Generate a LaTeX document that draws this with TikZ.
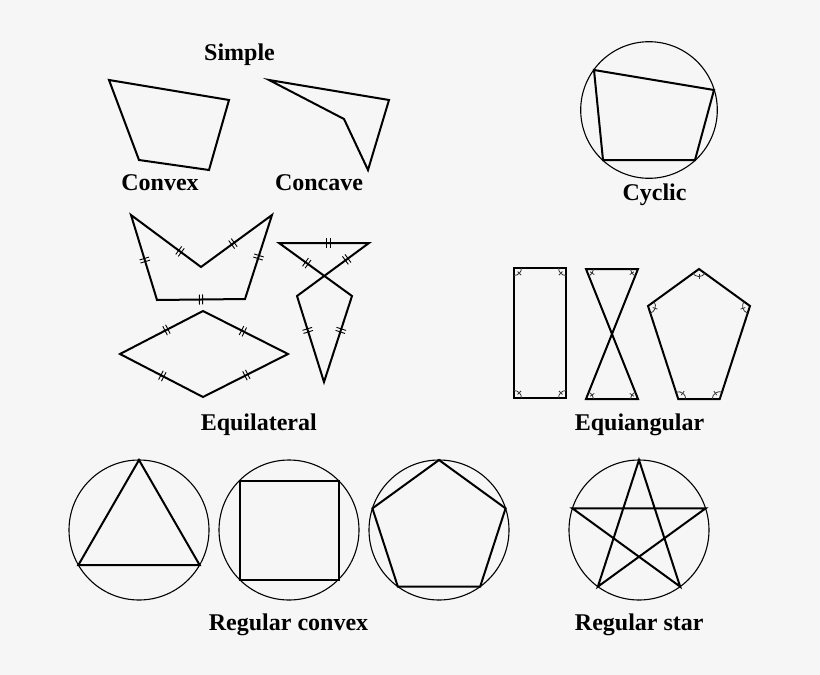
\documentclass[tikz,border=0pt]{standalone}
\usepackage{fontspec}
\setmainfont{Liberation Serif}
\usetikzlibrary{calc,decorations.markings}
\definecolor{bgcol}{HTML}{F6F6F6}
\definecolor{markcol}{HTML}{333333}
\tikzset{
  poly/.style={line width=2pt, black},
  circ/.style={line width=1.1pt, black},
  lbl/.style={font=\bfseries\fontsize{24}{28}\selectfont, anchor=base, inner sep=0pt},
  tickline/.style={line width=0.9pt},
  dtick/.style={decoration={markings, mark=at position #1 with {\draw[tickline] (-1.6pt,-5pt)--(-1.6pt,5pt) (1.6pt,-5pt)--(1.6pt,5pt);}}, decorate},
  amarkline/.style={line width=0.8pt, markcol},
}
\newcommand{\amk}[3]{%
  \draw[amarkline] ($(#1)+(#2:7.5)$) arc[start angle=#2, end angle=#3, radius=7.5];
  \draw[amarkline] ($(#1)+({(#2+#3)/2}:5)$) -- ($(#1)+({(#2+#3)/2}:10)$);
}
\begin{document}
\begin{tikzpicture}[x=1pt,y=-1pt]
\fill[bgcol] (0,0) rectangle (820,675);
\useasboundingbox (0,0) rectangle (820,675);

% ---------- Simple ----------
\node[lbl] (simple) at (239.5,60) {Simple};
\coordinate (c1) at (109,80);
\coordinate (c2) at (229,100);
\coordinate (c3) at (209,170);
\coordinate (c4) at (139,160);
\draw[poly] (c1) -- (c2) -- (c3) -- (c4) -- cycle;
\node[lbl] (convex) at (160,190) {Convex};
\coordinate (v1) at (269,80);
\coordinate (v2) at (389,100);
\coordinate (v3) at (368,170);
\coordinate (v4) at (344,119);
\draw[poly] (v1) -- (v2) -- (v3) -- (v4) -- cycle;
\node[lbl] (concave) at (319,190) {Concave};

% ---------- Cyclic ----------
\coordinate (cyc) at (649,110);
\draw[circ] (cyc) circle[radius=68.3];
\coordinate (y1) at (594,70);
\coordinate (y2) at (714,90);
\coordinate (y3) at (695,160);
\coordinate (y4) at (603,160);
\draw[poly] (y1) -- (y2) -- (y3) -- (y4) -- cycle;
\node[lbl] (cyclic) at (654.5,200) {Cyclic};

% ---------- Equilateral ----------
\coordinate (a1) at (131,215);
\coordinate (a2) at (201,267);
\coordinate (a3) at (272,215);
\coordinate (a4) at (245,299);
\coordinate (a5) at (157,300);
\draw[poly] (a1) -- (a2) -- (a3) -- (a4) -- (a5) -- cycle;
\path[dtick=0.7] (a1) -- (a2);
\path[dtick=0.45] (a2) -- (a3);
\path[dtick=0.5] (a3) -- (a4);
\path[dtick=0.5] (a4) -- (a5);
\path[dtick=0.47] (a5) -- (a1);

\coordinate (r1) at (120,354);
\coordinate (r2) at (203,311);
\coordinate (r3) at (288,354);
\coordinate (r4) at (203,397);
\draw[poly] (r1) -- (r2) -- (r3) -- (r4) -- cycle;
\path[dtick=0.56] (r1) -- (r2);
\path[dtick=0.47] (r2) -- (r3);
\path[dtick=0.49] (r3) -- (r4);
\path[dtick=0.49] (r4) -- (r1);

\coordinate (k1) at (279,243);
\coordinate (k2) at (369,243);
\coordinate (k3) at (297,296);
\coordinate (k4) at (324,382);
\coordinate (k5) at (352,296);
\draw[poly] (k1) -- (k2) -- (k3) -- (k4) -- (k5) -- cycle;
\path[dtick=0.55] (k1) -- (k2);
\path[dtick=0.31] (k2) -- (k3);
\path[dtick=0.4] (k3) -- (k4);
\path[dtick=0.6] (k4) -- (k5);
\path[dtick=0.62] (k5) -- (k1);
\node[lbl] (equilateral) at (258.8,430) {Equilateral};

% ---------- Equiangular ----------
\coordinate (q1) at (514,268);
\coordinate (q2) at (566,268);
\coordinate (q3) at (566,398);
\coordinate (q4) at (514,398);
\draw[poly] (q1) -- (q2) -- (q3) -- (q4) -- cycle;
\amk{q1}{0}{90}
\amk{q2}{90}{180}
\amk{q3}{180}{270}
\amk{q4}{270}{360}

\coordinate (x1) at (586,269);
\coordinate (x2) at (638,269);
\coordinate (x3) at (586,399);
\coordinate (x4) at (638,399);
\draw[poly] (x1) -- (x2) -- (x3) -- (x4) -- cycle;
\amk{x1}{0}{68.2}
\amk{x2}{111.8}{180}
\amk{x3}{291.8}{360}
\amk{x4}{180}{248.2}

\coordinate (p1) at (699,269);
\coordinate (p2) at (750,306);
\coordinate (p3) at (719.7,399.2);
\coordinate (p4) at (678.3,399.2);
\coordinate (p5) at (648,306);
\draw[poly] (p1) -- (p2) -- (p3) -- (p4) -- (p5) -- cycle;
\amk{p1}{36}{144}
\amk{p2}{108}{216}
\amk{p3}{180}{288}
\amk{p4}{252}{360}
\amk{p5}{-36}{72}
\node[lbl] (equiangular) at (639.5,430) {Equiangular};

% ---------- Regular convex ----------
\coordinate (o1) at (139,530);
\draw[circ] (o1) circle[radius=70];
\draw[poly] ($(o1)+(-90:70)$) -- ($(o1)+(30:70)$) -- ($(o1)+(150:70)$) -- cycle;
\coordinate (o2) at (289,530);
\draw[circ] (o2) circle[radius=70];
\draw[poly] ($(o2)+(-45:70)$) -- ($(o2)+(45:70)$) -- ($(o2)+(135:70)$) -- ($(o2)+(225:70)$) -- cycle;
\coordinate (o3) at (439,530);
\draw[circ] (o3) circle[radius=70];
\draw[poly] ($(o3)+(-90:70)$) -- ($(o3)+(-18:70)$) -- ($(o3)+(54:70)$) -- ($(o3)+(126:70)$) -- ($(o3)+(198:70)$) -- cycle;
\node[lbl] (regconvex) at (288.5,630) {Regular convex};

% ---------- Regular star ----------
\coordinate (o4) at (639,530);
\draw[circ] (o4) circle[radius=70];
\draw[poly] ($(o4)+(-90:70)$) -- ($(o4)+(54:70)$) -- ($(o4)+(198:70)$) -- ($(o4)+(-18:70)$) -- ($(o4)+(126:70)$) -- cycle;
\node[lbl] (regstar) at (639.3,630) {Regular star};
\end{tikzpicture}
\end{document}
